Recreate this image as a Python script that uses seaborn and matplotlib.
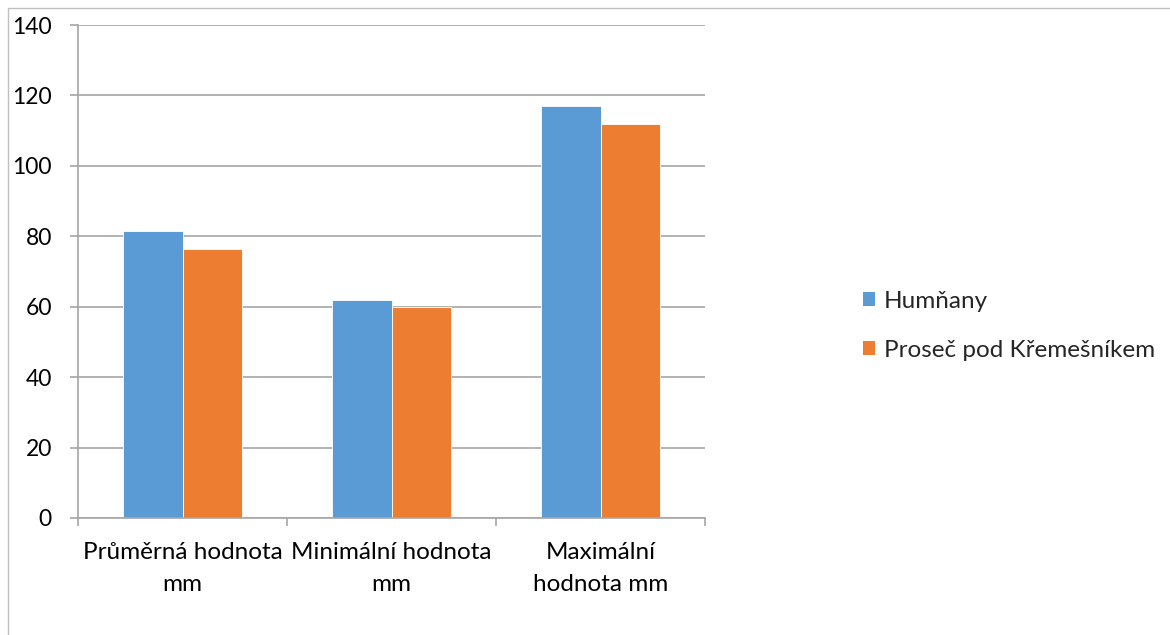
import matplotlib
matplotlib.use("Agg")
import matplotlib.pyplot as plt
from matplotlib.patches import Rectangle, Patch
import seaborn as sns
import pandas as pd

categories = ["Průměrná hodnota\nmm", "Minimální hodnota\nmm", "Maximální\nhodnota mm"]
series = ["Humňany", "Proseč pod Křemešníkem"]
humnany = [81.6, 62.0, 117.0]
prosec = [76.4, 60.0, 112.0]
y_ticks = [0, 20, 40, 60, 80, 100, 120, 140]
colors = ["#5B9BD5", "#ED7D31"]

df = pd.DataFrame({
    "kategorie": categories * 2,
    "hodnota": humnany + prosec,
    "rada": [series[0]] * 3 + [series[1]] * 3,
})

sns.set_theme(style="white")
plt.rcParams["font.family"] = ["Lato", "DejaVu Sans"]

fig = plt.figure(figsize=(11.7, 6.35), dpi=100)
ax = fig.add_axes([78 / 1170, 1 - 518 / 635, (705 - 78) / 1170, (518 - 25) / 635])

sns.barplot(data=df, x="kategorie", y="hodnota", hue="rada", palette=colors,
            saturation=1, width=0.574, gap=0, edgecolor="white", linewidth=0.6,
            ax=ax, legend=False)

ax.set_xlim(-0.5, 2.5)
ax.set_ylim(0, 140)
ax.set_yticks(y_ticks)
ax.set_yticklabels([str(v) for v in y_ticks])
ax.yaxis.grid(True, color="#A6A6A6", linewidth=1.2)
ax.set_axisbelow(True)
ax.set_xlabel("")
ax.set_ylabel("")

for s in ["top", "right"]:
    ax.spines[s].set_visible(False)
for s in ["left", "bottom"]:
    ax.spines[s].set_color("#A6A6A6")
    ax.spines[s].set_linewidth(1.2)

ax.tick_params(axis="y", which="major", length=5.8, width=1.2, color="#A6A6A6",
               pad=13, labelsize=16.5, labelcolor="black", left=True)
ax.tick_params(axis="x", which="major", length=0, pad=17.5, labelsize=17.5, labelcolor="black")
ax.set_xticks([-0.5, 0.5, 1.5, 2.5], minor=True)
ax.tick_params(axis="x", which="minor", length=5.8, width=1.2, color="#A6A6A6", bottom=True)
for lab in ax.get_xticklabels():
    lab.set_linespacing(1.6)

handles = [Patch(facecolor=c, edgecolor="none") for c in colors]
fig.legend(handles, series, loc="center left", bbox_to_anchor=(841 / 1170, 1 - 326 / 635),
           frameon=False, fontsize=17.5, handlelength=0.5, handleheight=0.5,
           handletextpad=0.35, labelspacing=1.15)

fig.patches.append(Rectangle((8 / 1170, -0.1), 1.2, 1 - 8 / 635 + 0.1,
                             transform=fig.transFigure, fill=False,
                             edgecolor="#BFBFBF", linewidth=1.0))

fig.savefig("out.png", dpi=100, facecolor="white")
